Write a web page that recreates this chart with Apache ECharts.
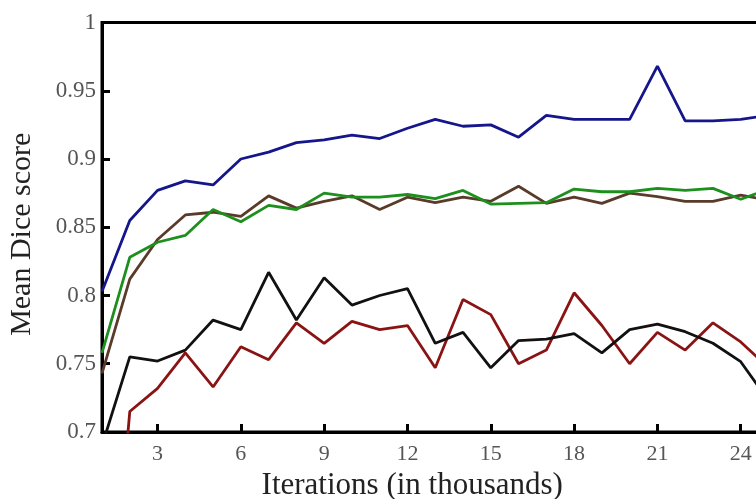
<!DOCTYPE html>
<html>
<head>
<meta charset="utf-8">
<script src="https://cdn.jsdelivr.net/npm/echarts@6/dist/echarts.min.js"></script>
<style>html,body{margin:0;padding:0;background:#fff}#c{width:756px;height:499px}</style>
</head>
<body>
<div id="c"></div>
<script>
const iterations = [1,2,3,4,5,6,7,8,9,10,11,12,13,14,15,16,17,18,19,20,21,22,23,24,25];
const blueScores  = [0.803,0.855,0.877,0.884,0.881,0.900,0.905,0.912,0.914,0.9175,0.915,0.9225,0.929,0.924,0.925,0.916,0.932,0.929,0.929,0.929,0.968,0.928,0.928,0.929,0.932];
const greenScores = [0.758,0.828,0.839,0.844,0.863,0.854,0.866,0.863,0.875,0.872,0.872,0.874,0.871,0.877,0.867,0.8675,0.868,0.878,0.876,0.876,0.8785,0.877,0.8785,0.8705,0.878];
const brownScores = [0.743,0.812,0.841,0.859,0.861,0.858,0.873,0.864,0.869,0.873,0.863,0.872,0.868,0.872,0.869,0.880,0.8675,0.872,0.8675,0.875,0.8725,0.869,0.869,0.8735,0.870];
const blackScores = [0.690,0.755,0.752,0.760,0.782,0.775,0.817,0.782,0.813,0.793,0.800,0.805,0.765,0.773,0.747,0.767,0.768,0.772,0.758,0.775,0.779,0.7735,0.765,0.7515,0.723];
const redScores   = [0.480,0.715,0.732,0.758,0.733,0.7625,0.753,0.780,0.765,0.781,0.775,0.778,0.747,0.797,0.786,0.750,0.760,0.802,0.778,0.750,0.773,0.760,0.780,0.766,0.747];
const xTickLabels = [3,6,9,12,15,18,21,24];
const yTickLabels = [0.7,0.75,0.8,0.85,0.9,0.95,1];
const xAxisTitle = 'Iterations (in thousands)';
const yAxisTitle = 'Mean Dice score';

const pairs = v => iterations.map((x,i)=>[x,v[i]]);
const seriesDefs = [
  {data: redScores, color:'#8a1414'},
  {data: blackScores, color:'#111111'},
  {data: brownScores, color:'#5a3b2a'},
  {data: greenScores, color:'#1d8f1d'},
  {data: blueScores, color:'#16168c'}
];
const font = '"Liberation Serif", "DejaVu Serif", serif';
const chart = echarts.init(document.getElementById('c'));
chart.setOption({
  animation:false,
  backgroundColor:'#fff',
  grid:{left:102, top:22.5, bottom:67, right:-12.5, show:true, borderColor:'#000', borderWidth:3, outerBoundsMode:'none'},
  xAxis:{
    type:'value', min:1, max:25,
    axisLine:{show:true, lineStyle:{color:'#000', width:3}},
    axisTick:{show:true, inside:true, length:8, lineStyle:{color:'#000', width:3}, customValues:xTickLabels},
    axisLabel:{color:'#555', fontFamily:font, fontSize:22, margin:11, customValues:xTickLabels},
    splitLine:{show:false},
    name:xAxisTitle, nameLocation:'middle', nameGap:37,
    nameTextStyle:{color:'#222', fontFamily:font, fontSize:31, padding:[0,46,0,0]}
  },
  yAxis:{
    type:'value', min:0.7, max:1, interval:0.05,
    axisLine:{show:true, lineStyle:{color:'#000', width:3}},
    axisTick:{show:true, inside:true, length:8, lineStyle:{color:'#000', width:3}},
    axisLabel:{color:'#555', fontFamily:font, fontSize:23, margin:6, customValues:yTickLabels},
    splitLine:{show:false},
    name:yAxisTitle, nameLocation:'middle', nameGap:65,
    nameTextStyle:{color:'#222', fontFamily:font, fontSize:30, padding:[0,14,0,0]}
  },
  series: seriesDefs.map(s=>({
    type:'line', data:pairs(s.data), symbol:'none', clip:true,
    lineStyle:{color:s.color, width:2.8}, itemStyle:{color:s.color}
  }))
});
</script>
</body>
</html>
